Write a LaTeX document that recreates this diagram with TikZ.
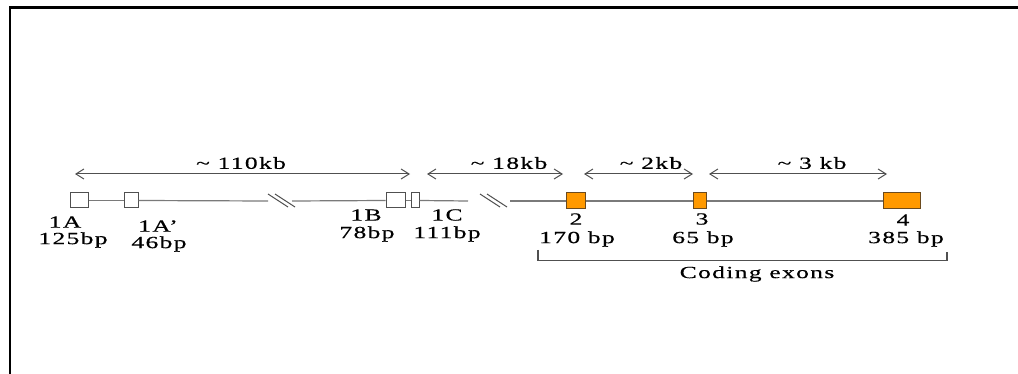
\documentclass[tikz,border=0pt]{standalone}
\usepackage{fontspec}
\setmainfont{Liberation Serif}[FakeStretch=1.5, LetterSpace=8, FakeBold=0.5]
\usetikzlibrary{arrows.meta}
\definecolor{exon}{HTML}{FF9900}
\definecolor{exonline}{HTML}{6B4A1E}
\definecolor{gline}{HTML}{7A7A7A}
\definecolor{aline}{HTML}{505050}
\tikzset{
  openexon/.style={draw=aline, fill=white, line width=1pt, rectangle, inner sep=0pt, minimum height=15pt},
  codexon/.style={draw=exonline, fill=exon, line width=1pt, rectangle, inner sep=0pt, minimum height=16pt},
  geneline/.style={draw=gline, line width=1.2pt},
  breakmark/.style={draw=aline, line width=1pt},
  dimarrow/.style={draw=aline, line width=1pt, {Straight Barb[length=8pt,width=10pt]}-{Straight Barb[length=8pt,width=10pt]}},
  lbl/.style={inner sep=0pt, font=\fontsize{17}{20}\selectfont},
  frameline/.style={draw=black, line width=2.2pt}
}
\begin{document}
\begin{tikzpicture}[x=1pt,y=-1pt]
\useasboundingbox (0,0) rectangle (1018,374);
\fill[white] (0,0) rectangle (1018,374);
% frame
\coordinate (fbl) at (10,374);
\coordinate (ftl) at (10,7.5);
\coordinate (ftr) at (1018,7.5);
\draw[frameline] (fbl) -- (ftl) -- (ftr);
% exons
\node[openexon, minimum width=18pt] (e1A) at (79,200.5) {};
\node[openexon, minimum width=14pt] (e1Ap) at (131,200.5) {};
\node[openexon, minimum width=19pt] (e1B) at (395.5,200.5) {};
\node[openexon, minimum width=8pt] (e1C) at (415,200.5) {};
\node[codexon, minimum width=19pt] (e2) at (575.5,201) {};
\node[codexon, minimum width=13pt] (e3) at (699.5,201) {};
\node[codexon, minimum width=37pt] (e4) at (901.5,201) {};
% breaks
\coordinate (b1l) at (268,201);
\coordinate (b1r) at (292,201);
\coordinate (b2l) at (468,201);
\coordinate (b2r) at (510,201);
\coordinate (s1a) at (268,194); \coordinate (s1b) at (288,207);
\coordinate (s2a) at (275,194); \coordinate (s2b) at (295,207);
\coordinate (s3a) at (480,194); \coordinate (s3b) at (500,207);
\coordinate (s4a) at (487,194); \coordinate (s4b) at (507,207);
% gene line
\draw[geneline] (e1A.east) -- (e1Ap.west);
\draw[geneline] (e1Ap.east) -- (b1l);
\draw[geneline] (b1r) -- (e1B.west);
\draw[geneline] (e1B.east) -- (e1C.west);
\draw[geneline] (e1C.east) -- (b2l);
\draw[geneline] (b2r) -- (e2.west);
\draw[geneline] (e2.east) -- (e3.west);
\draw[geneline] (e3.east) -- (e4.west);
\draw[breakmark] (s1a) -- (s1b);
\draw[breakmark] (s2a) -- (s2b);
\draw[breakmark] (s3a) -- (s3b);
\draw[breakmark] (s4a) -- (s4b);
% distance arrows
\coordinate (a1l) at (75,174); \coordinate (a1r) at (410,174);
\coordinate (a2l) at (427,174); \coordinate (a2r) at (563,174);
\coordinate (a3l) at (584,174); \coordinate (a3r) at (693,174);
\coordinate (a4l) at (709,174); \coordinate (a4r) at (887,174);
\draw[dimarrow] (a1l) -- (a1r);
\draw[dimarrow] (a2l) -- (a2r);
\draw[dimarrow] (a3l) -- (a3r);
\draw[dimarrow] (a4l) -- (a4r);
\node[lbl] (d1) at (241,163) {\textasciitilde{} 110kb};
\node[lbl] (d2) at (509,163) {\textasciitilde{} 18kb};
\node[lbl] (d3) at (651,163) {\textasciitilde{} 2kb};
\node[lbl] (d4) at (812,163) {\textasciitilde{} 3 kb};
% exon labels
\node[lbl] (n1A) at (65,222) {1A};
\node[lbl] (s1A) at (73,240) {125bp};
\node[lbl] (n1Ap) at (158,226) {1A’};
\node[lbl] (s1Ap) at (159,244) {46bp};
\node[lbl] (n1B) at (366,215) {1B};
\node[lbl] (s1B) at (367,234) {78bp};
\node[lbl] (n1C) at (447,215) {1C};
\node[lbl] (s1C) at (447,234) {111bp};
\node[lbl] (n2) at (576,219) {2};
\node[lbl] (s2) at (577,239) {170 bp};
\node[lbl] (n3) at (702,219) {3};
\node[lbl] (s3) at (703,239) {65 bp};
\node[lbl] (n4) at (903,220) {4};
\node[lbl] (s4) at (906,239) {385 bp};
% coding bracket
\coordinate (bl) at (538,250);
\coordinate (blc) at (538,260.5);
\coordinate (brc) at (947,260.5);
\coordinate (br) at (947,252);
\draw[draw=aline, line width=1.2pt] (bl) -- (blc) -- (brc) -- (br);
\node[lbl] (coding) at (757,274) {Coding exons};
\end{tikzpicture}
\end{document}
